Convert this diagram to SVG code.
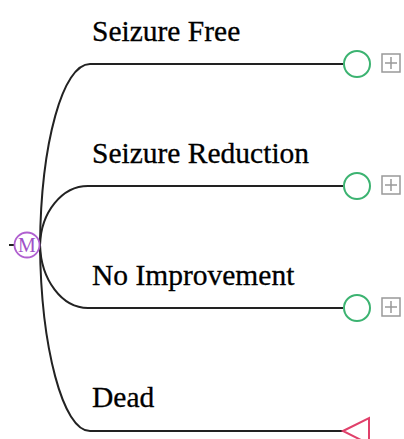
<svg xmlns="http://www.w3.org/2000/svg" width="404" height="439" viewBox="0 0 404 439">
<style>
.lbl{font-family:"Liberation Serif","Times New Roman",serif;font-size:29.5px;fill:#000;stroke:#000;stroke-width:0.3}
.edge{fill:none;stroke:#222;stroke-width:2}
.chance{fill:#fff;stroke:#3cb371;stroke-width:2}
.box{fill:#fff;stroke:#999;stroke-width:1.5}
.plus{stroke:#999;stroke-width:1.5}
</style>
<rect width="404" height="439" fill="#fff"/>
<g id="connectors">
<line class="edge" x1="9" y1="245" x2="15" y2="245"/>
<path class="edge" d="M40,245 C41,142 63,64 90,64 L343,64"/>
<path class="edge" d="M40,245 C41,212 62,186 88,186 L343,186"/>
<path class="edge" d="M40,245 C41,280 62,308 88,308 L343,308"/>
<path class="edge" d="M40,245 C41,348 63,431 90,431 L343,431"/>
</g>
<g id="root">
<circle cx="27" cy="245" r="12.5" fill="#fff" stroke="#b060d0" stroke-width="1.8"/>
<text x="27" y="252" text-anchor="middle" font-family="Liberation Serif, Times New Roman, serif" font-size="20" fill="#a050c8">M</text>
</g>
<g id="n1">
<text class="lbl" x="92" y="41">Seizure Free</text>
<circle class="chance" cx="357" cy="64" r="13"/>
<rect class="box" x="382" y="54" width="18" height="18"/>
<line class="plus" x1="385" y1="63" x2="397" y2="63"/><line class="plus" x1="391" y1="57" x2="391" y2="69"/>
</g>
<g id="n2">
<text class="lbl" x="92" y="163">Seizure Reduction</text>
<circle class="chance" cx="357" cy="186" r="13"/>
<rect class="box" x="382" y="176" width="18" height="18"/>
<line class="plus" x1="385" y1="185" x2="397" y2="185"/><line class="plus" x1="391" y1="179" x2="391" y2="191"/>
</g>
<g id="n3">
<text class="lbl" x="92" y="285">No Improvement</text>
<circle class="chance" cx="357" cy="308" r="13"/>
<rect class="box" x="382" y="298" width="18" height="18"/>
<line class="plus" x1="385" y1="307" x2="397" y2="307"/><line class="plus" x1="391" y1="301" x2="391" y2="313"/>
</g>
<g id="n4">
<text class="lbl" x="92" y="407">Dead</text>
<polygon points="343,431 369,418 369,444" fill="#fff" stroke="#e0406a" stroke-width="2"/>
</g>
</svg>
